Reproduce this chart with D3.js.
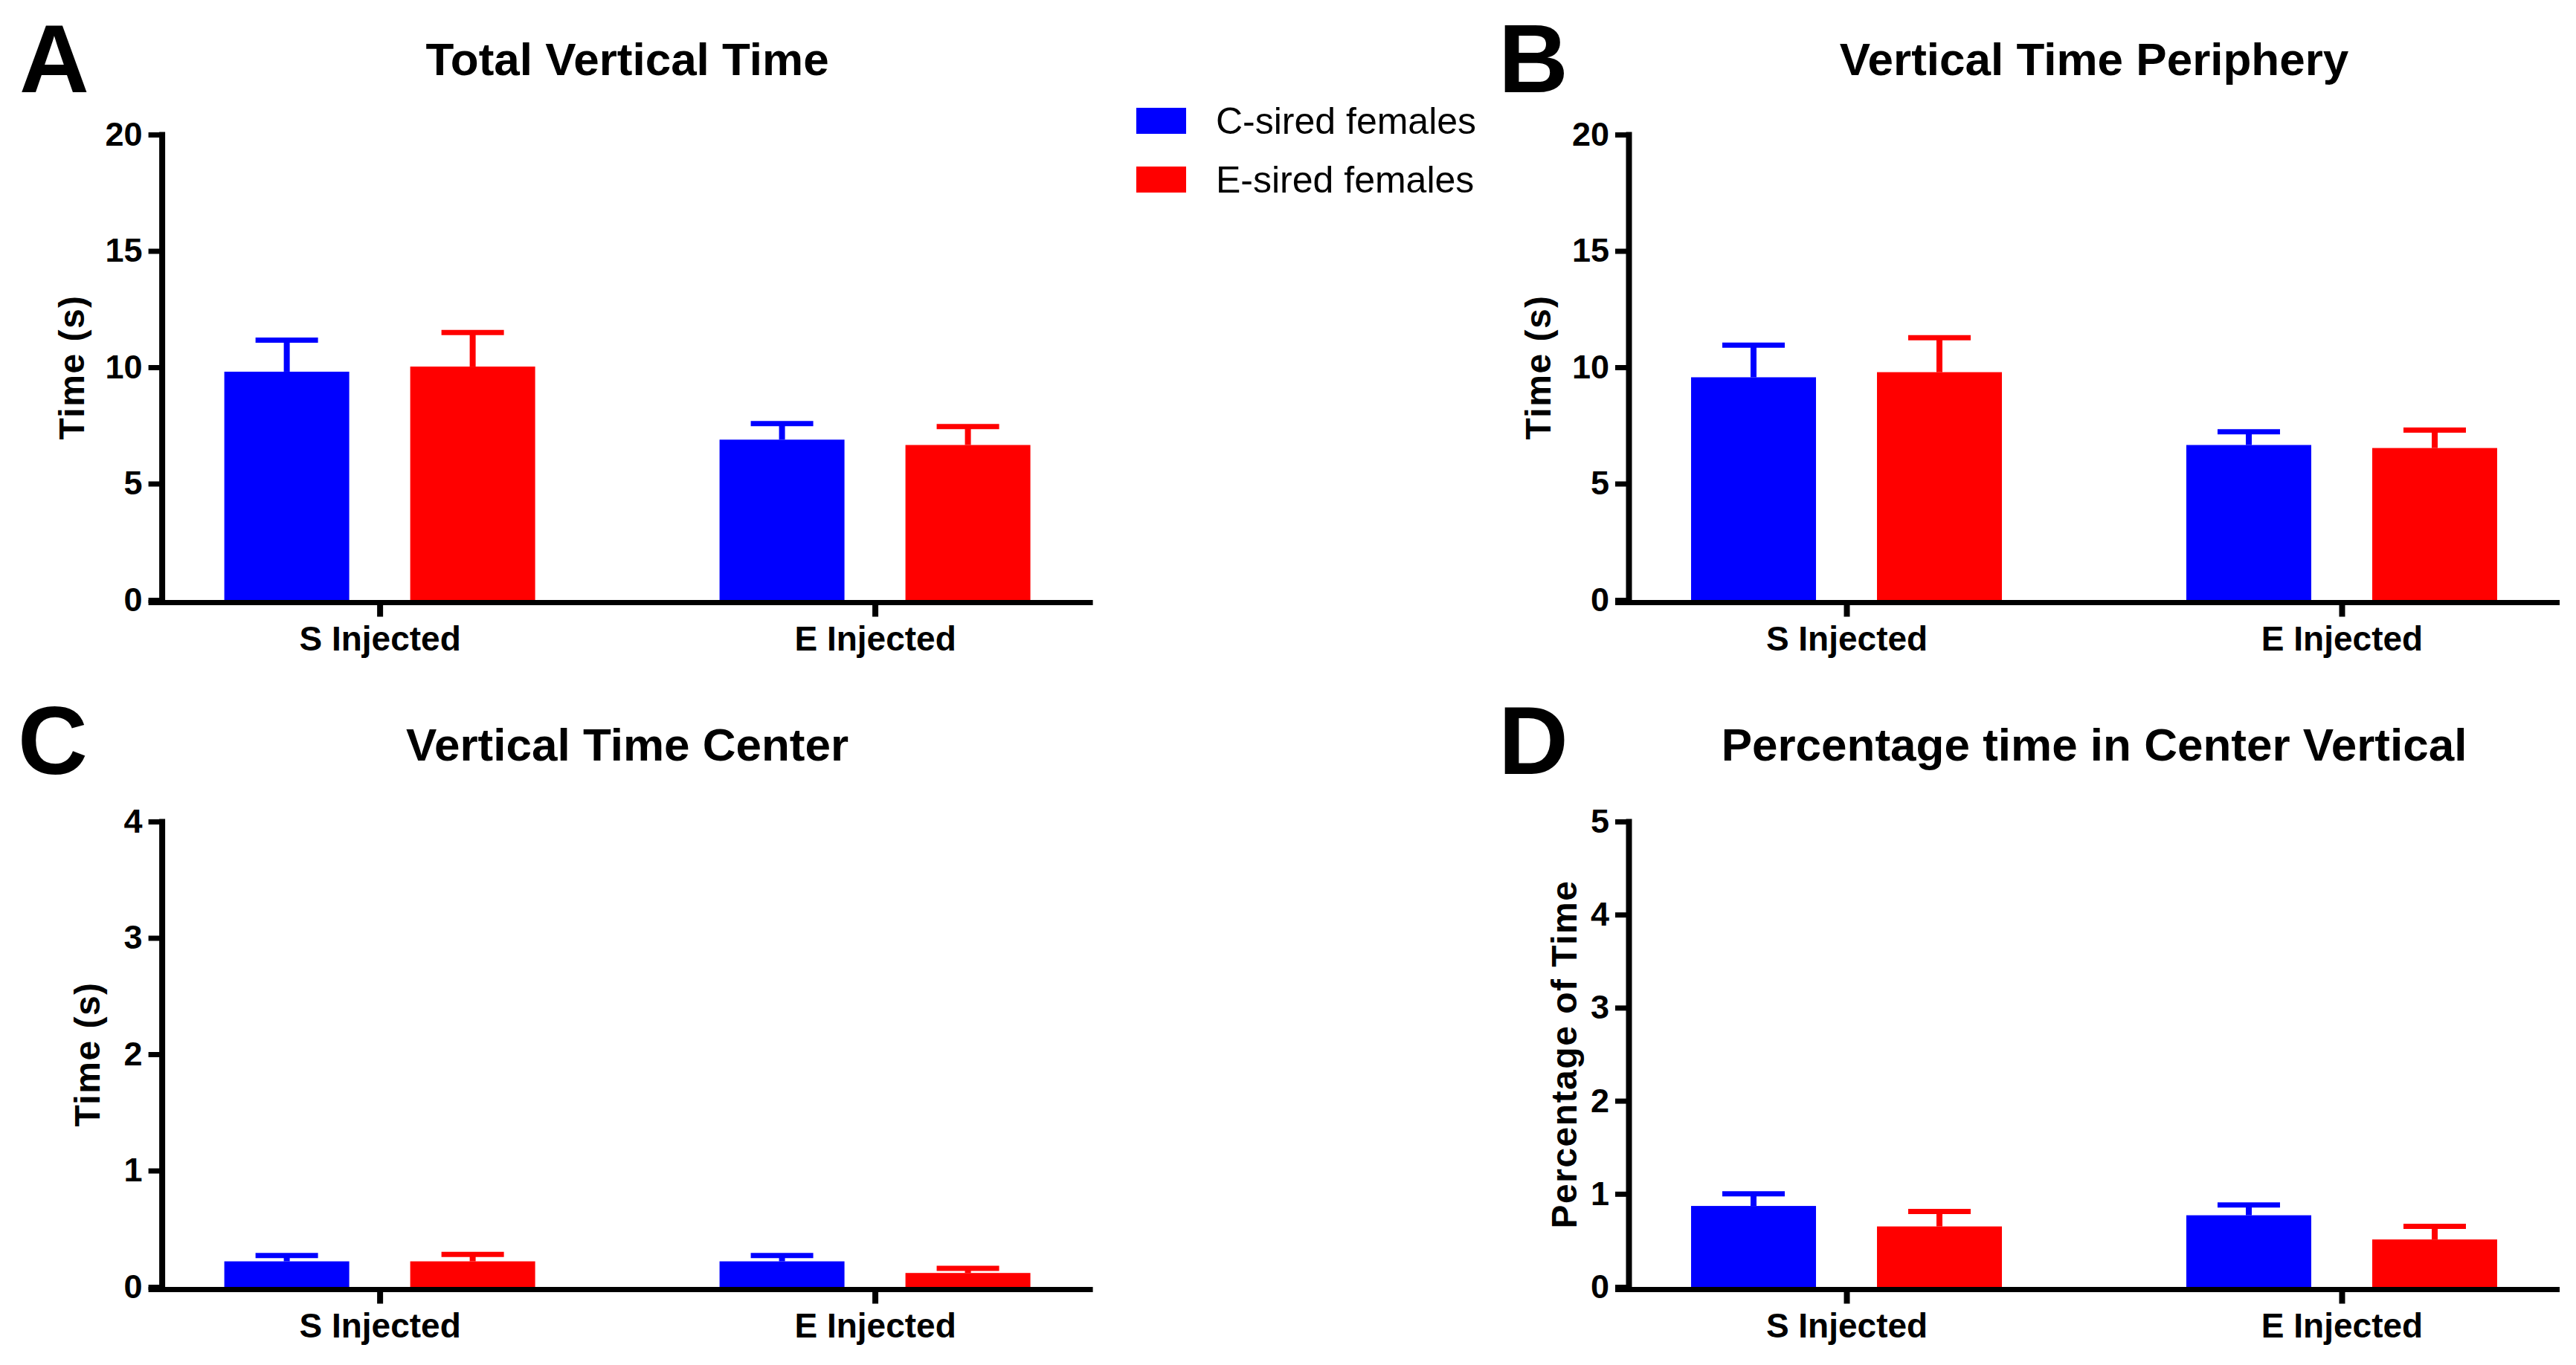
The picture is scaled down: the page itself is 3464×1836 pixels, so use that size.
<!DOCTYPE html>
<html>
<head>
<meta charset="utf-8">
<script src="https://cdn.jsdelivr.net/npm/d3@7"></script>
<style>
  html, body { margin: 0; padding: 0; background: #fff; }
  svg { display: block; font-family: "Liberation Sans", Arial, Helvetica, sans-serif; }
</style>
</head>
<body>
<div id="chart"></div>
<script>
// --- data ---
const categories = ["S Injected", "E Injected"];
const series = ["C-sired females", "E-sired females"];
const colors = ["#0000FF", "#FF0000"];

// rows = categories, columns = series (mean, and upper error = SEM)
const totalMean = [[9.81, 10.03], [6.89, 6.66]];
const totalSem = [[1.36, 1.46], [0.69, 0.79]];

const peripheryMean = [[9.57, 9.79], [6.66, 6.53]];
const peripherySem = [[1.38, 1.48], [0.57, 0.77]];

const centerMean = [[0.22, 0.22], [0.22, 0.12]];
const centerSem = [[0.05, 0.06], [0.05, 0.04]];

const percentMean = [[0.87, 0.65], [0.77, 0.51]];
const percentSem = [[0.13, 0.16], [0.11, 0.14]];

const ticksTime = [0, 5, 10, 15, 20];
const ticksCenter = [0, 1, 2, 3, 4];
const ticksPercent = [0, 1, 2, 3, 4, 5];

// --- layout ---
const W = 3464, H = 1836;
const plotW = 1252, plotH = 626;

const panels = [
    { letter: "A", title: "Total Vertical Time", yLabel: "Time (s)", mean: totalMean, sem: totalSem, ticks: ticksTime,
      ox: 217.6, oy: 181, labelDX: -105, letterX: 26, letterY: 124, titleY: 101 },
    { letter: "B", title: "Vertical Time Periphery", yLabel: "Time (s)", mean: peripheryMean, sem: peripherySem, ticks: ticksTime,
      ox: 2190, oy: 181, labelDX: -105, letterX: 2015, letterY: 124, titleY: 101 },
    { letter: "C", title: "Vertical Time Center", yLabel: "Time (s)", mean: centerMean, sem: centerSem, ticks: ticksCenter,
      ox: 217.6, oy: 1105, labelDX: -84, letterX: 24, letterY: 1041, titleY: 1023 },
    { letter: "D", title: "Percentage time in Center Vertical", yLabel: "Percentage of Time", mean: percentMean, sem: percentSem, ticks: ticksPercent,
      ox: 2190, oy: 1105, labelDX: -70, letterX: 2015, letterY: 1041, titleY: 1023 }
];

const svg = d3.select("#chart").append("svg")
    .attr("width", W)
    .attr("height", H)
    .attr("viewBox", `0 0 ${W} ${H}`);

svg.append("rect").attr("width", W).attr("height", H).attr("fill", "#fff");

const x0 = d3.scalePoint().domain(categories).range([0, plotW]).padding(0.44);
const x1 = d3.scaleBand().domain(series).range([-209, 209]).paddingInner(0.328);

function drawPanel(p) {
    const g = svg.append("g").attr("transform", `translate(${p.ox},${p.oy})`);
    const y = d3.scaleLinear()
        .domain([0, d3.max(p.ticks)])
        .range([plotH, 0]);

    // panel letter + title (positioned in page coords)
    svg.append("text")
        .attr("x", p.letterX)
        .attr("y", p.letterY)
        .style("font-size", "130px")
        .style("font-weight", "bold")
        .text(p.letter);

    svg.append("text")
        .attr("x", p.ox + plotW / 2)
        .attr("y", p.titleY)
        .attr("text-anchor", "middle")
        .style("font-size", "62px")
        .style("font-weight", "bold")
        .text(p.title);

    // flatten into bar records
    const bars = [];
    categories.forEach((c, i) => {
        series.forEach((s, j) => {
            bars.push({ cat: c, ser: s, color: colors[j], mean: p.mean[i][j], sem: p.sem[i][j] });
        });
    });

    // error bars (upper only)
    const capW = x1.bandwidth() / 2;
    bars.forEach(d => {
        const cx = x0(d.cat) + x1(d.ser) + x1.bandwidth() / 2;
        g.append("line")
            .attr("x1", cx).attr("x2", cx)
            .attr("y1", y(d.mean)).attr("y2", y(d.mean + d.sem))
            .attr("stroke", d.color)
            .attr("stroke-width", 8);
        g.append("line")
            .attr("x1", cx - capW / 2).attr("x2", cx + capW / 2)
            .attr("y1", y(d.mean + d.sem)).attr("y2", y(d.mean + d.sem))
            .attr("stroke", d.color)
            .attr("stroke-width", 7);
    });

    g.selectAll(".bar")
        .data(bars)
        .enter().append("rect")
        .attr("class", "bar")
        .attr("x", d => x0(d.cat) + x1(d.ser))
        .attr("width", x1.bandwidth())
        .attr("y", d => y(d.mean))
        .attr("height", d => plotH - y(d.mean))
        .attr("fill", d => d.color);

    // y axis
    const ya = g.append("g")
        .call(d3.axisLeft(y).tickValues(p.ticks).tickFormat(d3.format("d"))
            .tickSize(18).tickSizeOuter(0).tickPadding(8));
    ya.select(".domain")
        .attr("stroke", "#000")
        .attr("stroke-width", 8)
        .attr("stroke-linecap", "square");
    ya.selectAll(".tick line").attr("stroke", "#000").attr("stroke-width", 7);
    ya.selectAll(".tick text")
        .attr("fill", "#000")
        .style("font-size", "45px")
        .style("font-weight", "bold")
        .style("font-family", "'Liberation Sans', Arial, sans-serif");

    // x axis
    const xa = g.append("g")
        .attr("transform", `translate(0,${plotH + 3.5})`)
        .call(d3.axisBottom(x0).tickSize(19).tickPadding(12.5));
    xa.select(".domain").remove();
    xa.append("line")
        .attr("x1", -18).attr("x2", plotW)
        .attr("stroke", "#000")
        .attr("stroke-width", 7);
    xa.selectAll(".tick line").attr("stroke", "#000").attr("stroke-width", 8);
    xa.selectAll(".tick text")
        .attr("fill", "#000")
        .style("font-size", "46px")
        .style("font-weight", "bold")
        .style("font-family", "'Liberation Sans', Arial, sans-serif");

    // y label
    g.append("text")
        .attr("transform", `translate(${p.labelDX},${plotH / 2}) rotate(-90)`)
        .attr("text-anchor", "middle")
        .style("font-size", "48px")
        .style("font-weight", "bold")
        .style("letter-spacing", "1.5px")
        .text(p.yLabel);
}

panels.forEach(drawPanel);

// legend
const legend = svg.append("g").attr("transform", "translate(1528,145)");
series.forEach((s, i) => {
    const row = legend.append("g").attr("transform", `translate(0,${i * 79})`);
    row.append("rect")
        .attr("width", 67)
        .attr("height", 35)
        .attr("fill", colors[i]);
    row.append("text")
        .attr("x", 107)
        .attr("y", 35)
        .style("font-size", "50px")
        .text(s);
});
</script>
</body>
</html>
